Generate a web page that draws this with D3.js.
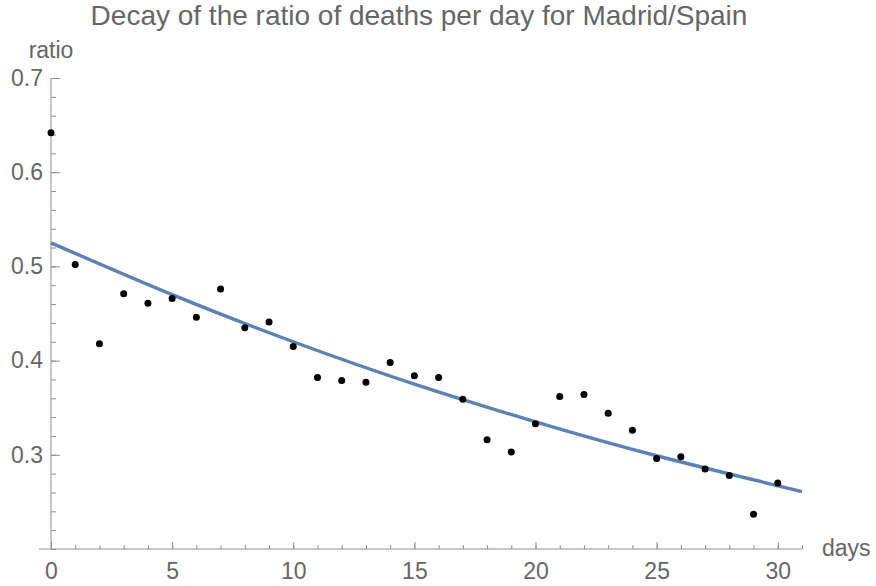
<!DOCTYPE html>
<html>
<head>
<meta charset="utf-8">
<script src="https://cdn.jsdelivr.net/npm/d3@7"></script>
<style>
  body { margin: 0; background: #fff; }
  text { font-family: "Liberation Sans", Arial, sans-serif; }
</style>
</head>
<body>
<div id="container"></div>
<script>
// observed ratio per day
var days = [0, 1, 2, 3, 4, 5, 6, 7, 8, 9, 10, 11, 12, 13, 14, 15, 16, 17, 18, 19, 20, 21, 22, 23, 24, 25, 26, 27, 28, 29, 30];
var ratios = [0.642, 0.502, 0.418, 0.471, 0.461, 0.466, 0.446, 0.476, 0.435, 0.441, 0.415, 0.382, 0.379, 0.377, 0.398, 0.384,
  0.382, 0.359, 0.316, 0.303, 0.333, 0.362, 0.364, 0.344, 0.326, 0.296, 0.298, 0.285, 0.278, 0.237, 0.270];

// fitted decay curve
var fitDays = [0, 5, 10, 15, 20, 25, 31];
var fitRatios = [0.525, 0.470, 0.420, 0.375, 0.335, 0.299, 0.261];

var xTicks = [0, 5, 10, 15, 20, 25, 30];
var yTicks = [0.3, 0.4, 0.5, 0.6, 0.7];

var W = 876, H = 586;
var textColor = "#666666", axisColor = "#8f8f8f";

var svg = d3.select("#container").append("svg")
  .attr("width", W)
  .attr("height", H);

var x = d3.scaleLinear().domain([0, 31]).range([51, 802]);
var y = d3.scaleLinear().domain([0.2, 0.7]).range([549, 78]);

var minorX = d3.range(0, 32);
var minorY = d3.range(0.2, 0.7001, 0.02);

// x axis
var gx = svg.append("g").attr("transform", "translate(0," + y(0.2) + ")");
gx.append("g").call(d3.axisBottom(x).tickValues(minorX).tickSize(-4).tickFormat(""));
gx.append("g").call(d3.axisBottom(x).tickValues(xTicks).tickSize(-7).tickPadding(14).tickFormat(d3.format("d")));
gx.selectAll(".domain").remove();
gx.append("line")
  .attr("x1", x(-0.5)).attr("x2", x(31))
  .attr("stroke", axisColor);

// y axis
var gy = svg.append("g").attr("transform", "translate(" + x(0) + ",0)");
gy.append("g").call(d3.axisLeft(y).tickValues(minorY).tickSize(-5).tickFormat(""));
gy.append("g").call(d3.axisLeft(y).tickValues(yTicks).tickSize(-9).tickPadding(8).tickFormat(d3.format(".1f")));
gy.selectAll(".domain").remove();
gy.append("line")
  .attr("y1", y(0.2)).attr("y2", y(0.7))
  .attr("stroke", axisColor);

svg.selectAll(".tick line").attr("stroke", axisColor);
svg.selectAll(".tick text")
  .attr("fill", textColor)
  .style("font-size", "23px")
  .style("font-family", "'Liberation Sans', Arial, sans-serif");

// axis labels
svg.append("text")
  .attr("x", x(0)).attr("y", 58)
  .attr("text-anchor", "middle")
  .attr("fill", textColor)
  .style("font-size", "23px")
  .text("ratio");

svg.append("text")
  .attr("x", 822).attr("y", 556)
  .attr("fill", textColor)
  .style("font-size", "23px")
  .text("days");

// title
svg.append("text")
  .attr("x", 419).attr("y", 25)
  .attr("text-anchor", "middle")
  .attr("fill", textColor)
  .style("font-size", "28px")
  .text("Decay of the ratio of deaths per day for Madrid/Spain");

// fitted curve
var fitLine = d3.line()
  .x(function(d, i) { return x(fitDays[i]); })
  .y(function(d) { return y(d); })
  .curve(d3.curveNatural);

svg.append("path")
  .datum(fitRatios)
  .attr("d", fitLine)
  .attr("fill", "none")
  .attr("stroke", "#5e81b5")
  .attr("stroke-width", 3.4);

// points
svg.selectAll("circle.pt")
  .data(ratios)
  .enter()
  .append("circle")
  .attr("class", "pt")
  .attr("cx", function(d, i) { return x(days[i]); })
  .attr("cy", function(d) { return y(d); })
  .attr("r", 3.5)
  .attr("fill", "#000");
</script>
</body>
</html>
